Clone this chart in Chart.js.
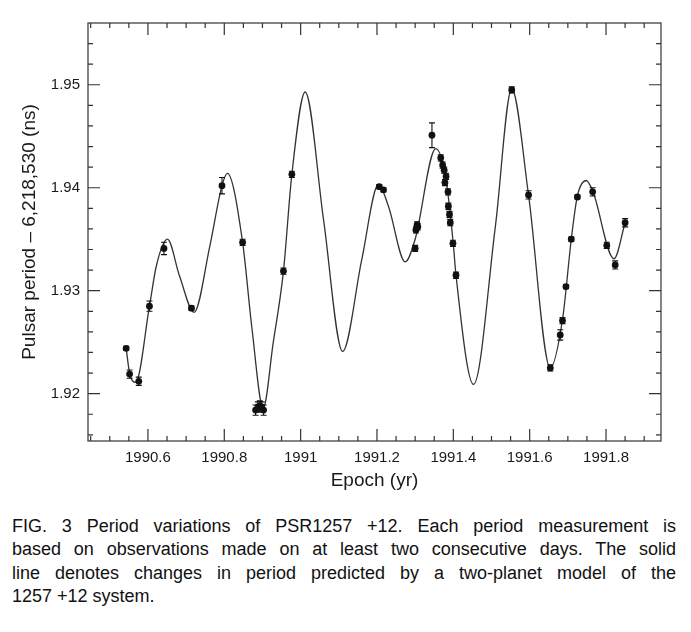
<!DOCTYPE html>
<html>
<head>
<meta charset="utf-8">
<script src="https://cdn.jsdelivr.net/npm/chart.js@4.4.0/dist/chart.umd.min.js"></script>
<style>
  body { margin: 0; background: #fff; width: 691px; height: 632px; overflow: hidden; }
  #wrap { width: 691px; height: 495px; }
  #caption {
    margin: 20px 0 0 12px; width: 664px;
    font-family: "Liberation Sans", Arial, sans-serif;
    font-size: 18px; line-height: 23.4px; color: #111;
  }
  #caption .j { text-align: justify; text-align-last: justify; white-space: nowrap; }
</style>
</head>
<body>
<div id="wrap"><canvas id="chart" width="691" height="495"></canvas></div>
<div id="caption">
  <div class="j">FIG. 3 Period variations of PSR1257 +12. Each period measurement is</div>
  <div class="j">based on observations made on at least two consecutive days. The solid</div>
  <div class="j">line denotes changes in period predicted by a two-planet model of the</div>
  <div>1257 +12 system.</div>
</div>
<script>
// Model curve
const modelEpoch = [1990.543, 1990.552, 1990.568, 1990.604, 1990.622, 1990.651, 1990.683, 1990.721,
  1990.762, 1990.794, 1990.808, 1990.848, 1990.872, 1990.902, 1990.928, 1990.955, 1990.977, 1991.012,
  1991.060, 1991.110, 1991.160, 1991.204, 1991.230, 1991.274, 1991.300, 1991.354, 1991.380, 1991.400,
  1991.407, 1991.453, 1991.510, 1991.553, 1991.597, 1991.654, 1991.686, 1991.709, 1991.725, 1991.748,
  1991.765, 1991.821, 1991.850]
const modelPeriod = [1.9244, 1.9220, 1.9211, 1.9285, 1.9324, 1.9350, 1.9314, 1.9279,
  1.9343, 1.9402, 1.9414, 1.9347, 1.9265, 1.9186, 1.9249, 1.9319, 1.9413, 1.9493,
  1.9369, 1.9241, 1.9330, 1.9403, 1.9382, 1.9328, 1.9350, 1.9438, 1.9410, 1.9345,
  1.9315, 1.9209, 1.9362, 1.9496, 1.9393, 1.9225, 1.9272, 1.9350, 1.9392, 1.9407,
  1.9397, 1.9331, 1.9366]

// Period measurements with error bars
const obsEpoch = [1990.543, 1990.552, 1990.576, 1990.604, 1990.642, 1990.714, 1990.794, 1990.848,
  1990.882, 1990.888, 1990.893, 1990.898, 1990.903, 1990.955, 1990.977, 1991.206, 1991.217,
  1991.300, 1991.302, 1991.305, 1991.307, 1991.344, 1991.367, 1991.372, 1991.376, 1991.378,
  1991.381, 1991.386, 1991.387, 1991.390, 1991.392, 1991.399, 1991.407, 1991.553, 1991.597,
  1991.654, 1991.680, 1991.686, 1991.695, 1991.709, 1991.725, 1991.765, 1991.802, 1991.824, 1991.850]
const obsPeriod = [1.9244, 1.9219, 1.9212, 1.9285, 1.9341, 1.9283, 1.9402, 1.9347,
  1.9184, 1.9187, 1.9188, 1.9187, 1.9184, 1.9319, 1.9413, 1.9401, 1.9398,
  1.9341, 1.9359, 1.9364, 1.9362, 1.9451, 1.9429, 1.9422, 1.9417, 1.9405,
  1.9411, 1.9396, 1.9382, 1.9374, 1.9366, 1.9346, 1.9315, 1.9495, 1.9393,
  1.9225, 1.9257, 1.9271, 1.9304, 1.9350, 1.9391, 1.9396, 1.9344, 1.9325, 1.9366]
const obsErr = [0.0002, 0.0004, 0.0004, 0.0005, 0.0006, 0.0002, 0.0008, 0.0003,
  0.0005, 0.0005, 0.0005, 0.0005, 0.0005, 0.0003, 0.0003, 0.0002, 0.0002,
  0.0003, 0.0003, 0.0003, 0.0003, 0.0012, 0.0003, 0.0003, 0.0003, 0.0003,
  0.0003, 0.0003, 0.0003, 0.0003, 0.0003, 0.0003, 0.0003, 0.0003, 0.0004,
  0.0003, 0.0005, 0.0003, 0.0002, 0.0002, 0.0002, 0.0004, 0.0003, 0.0004, 0.0004]

// Axis ticks
const xTicks = [1990.6, 1990.8, 1991, 1991.2, 1991.4, 1991.6, 1991.8]
const yTicks = [1.92, 1.93, 1.94, 1.95]

const ink = "#1a1a1a"

// frame with inward ticks on all four sides
const frameTicks = {
  id: "frameTicks",
  afterDraw(chart) {
    const { ctx, chartArea: a, scales: { x, y } } = chart
    ctx.save()
    ctx.strokeStyle = "#333"
    ctx.lineWidth = 1.2
    ctx.strokeRect(a.left, a.top, a.right - a.left, a.bottom - a.top)
    ctx.beginPath()
    for (let i = 1990 * 20 + 9; i <= 1991 * 20 + 18; i++) {
      const v = i / 20, px = x.getPixelForValue(v)
      if (px <= a.left + 1 || px >= a.right - 1) continue
      const len = i % 4 === 0 ? 12 : 5
      ctx.moveTo(px, a.bottom); ctx.lineTo(px, a.bottom - len)
      ctx.moveTo(px, a.top); ctx.lineTo(px, a.top + len)
    }
    for (let i = 958; i <= 978; i++) {
      const v = i / 500, py = y.getPixelForValue(v)
      if (py <= a.top + 1 || py >= a.bottom - 1) continue
      const len = i % 5 === 0 ? 12 : 5
      ctx.moveTo(a.left, py); ctx.lineTo(a.left + len, py)
      ctx.moveTo(a.right, py); ctx.lineTo(a.right - len, py)
    }
    ctx.stroke()
    ctx.restore()
  }
}

// vertical error bars for the measurements
const errorBars = {
  id: "errorBars",
  afterDatasetsDraw(chart) {
    const { ctx, scales: { x, y } } = chart
    ctx.save()
    ctx.strokeStyle = "#111"
    ctx.lineWidth = 1.1
    ctx.beginPath()
    obsEpoch.forEach((t, i) => {
      const px = x.getPixelForValue(t)
      const hi = y.getPixelForValue(obsPeriod[i] + obsErr[i])
      const lo = y.getPixelForValue(obsPeriod[i] - obsErr[i])
      ctx.moveTo(px, hi); ctx.lineTo(px, lo)
      ctx.moveTo(px - 3, hi); ctx.lineTo(px + 3, hi)
      ctx.moveTo(px - 3, lo); ctx.lineTo(px + 3, lo)
    })
    ctx.stroke()
    ctx.restore()
  }
}

new Chart(document.getElementById("chart"), {
  type: "scatter",
  data: {
    datasets: [
      {
        label: "Two-planet model",
        data: modelEpoch.map((t, i) => ({ x: t, y: modelPeriod[i] })),
        showLine: true,
        borderColor: "#333",
        borderWidth: 1.3,
        pointRadius: 0,
        cubicInterpolationMode: "monotone",
        order: 2
      },
      {
        label: "Measurements",
        data: obsEpoch.map((t, i) => ({ x: t, y: obsPeriod[i] })),
        showLine: false,
        pointRadius: 3.4,
        pointBackgroundColor: "#111",
        pointBorderColor: "#111",
        pointBorderWidth: 0,
        order: 1
      }
    ]
  },
  options: {
    responsive: false,
    animation: false,
    layout: { padding: { top: 23, right: 30, left: 0, bottom: 0 } },
    plugins: { legend: { display: false }, tooltip: { enabled: false } },
    scales: {
      x: {
        type: "linear",
        min: 1990.443,
        max: 1991.944,
        grid: { display: false, drawTicks: false },
        border: { display: false },
        afterBuildTicks: s => { s.ticks = xTicks.map(v => ({ value: v })) },
        afterFit: s => { s.height = 54 },
        ticks: {
          color: ink, padding: 8, maxRotation: 0, autoSkip: false,
          font: { family: "Liberation Sans", size: 15 },
          callback: v => String(+v.toFixed(1))
        },
        title: {
          display: true, text: "Epoch (yr)", color: ink,
          font: { family: "Liberation Sans", size: 19 },
          padding: { top: 0, bottom: 3 }
        }
      },
      y: {
        type: "linear",
        min: 1.9154,
        max: 1.956,
        grid: { display: false, drawTicks: false },
        border: { display: false },
        afterBuildTicks: s => { s.ticks = yTicks.map(v => ({ value: v })) },
        afterFit: s => { s.width = 88 },
        ticks: {
          color: ink, padding: 8,
          font: { family: "Liberation Sans", size: 15 },
          callback: v => v.toFixed(2)
        },
        title: {
          display: true, text: "Pulsar period \u2013 6,218,530 (ns)", color: ink,
          font: { family: "Liberation Sans", size: 19 },
          padding: { top: 18, bottom: 0 }
        }
      }
    }
  },
  plugins: [frameTicks, errorBars]
})
</script>
</body>
</html>
